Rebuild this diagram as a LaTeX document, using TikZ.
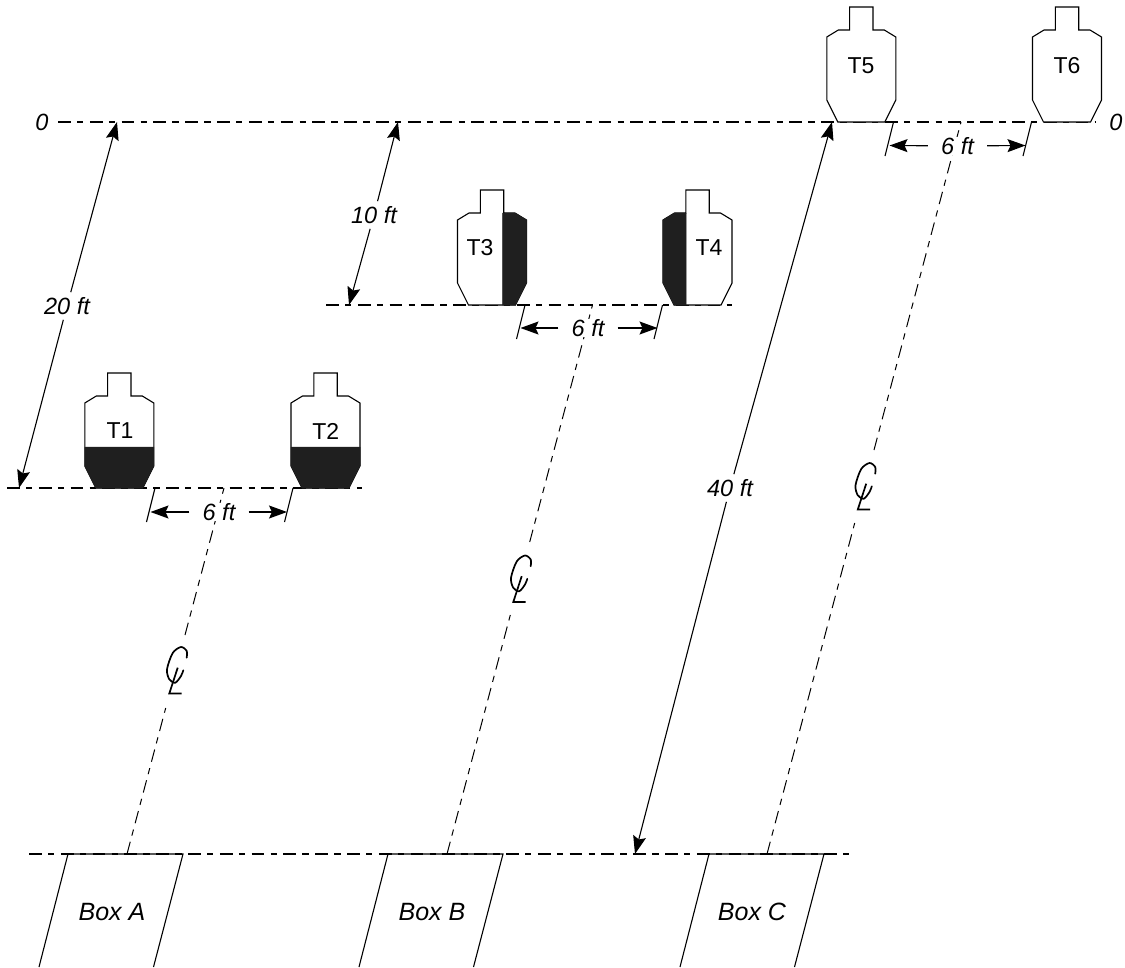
\documentclass[tikz,border=0pt]{standalone}
\usepackage{fontspec}
\setmainfont{Liberation Sans}
\usetikzlibrary{arrows.meta}
\tikzset{
  pics/target/.style={code={
    \draw[target line,fill=white] (-11.7,-115) -- (11.7,-115) -- (11.7,-92) -- (23,-92) -- (34.5,-85) -- (34.5,-22)
      -- (23.5,0) -- (-23.5,0) -- (-34.5,-22) -- (-34.5,-85) -- (-23,-92) -- (-11.7,-92) -- cycle;
  }},
  pics/clmark/.style={code={
    \draw[line width=1.7pt,line cap=round] plot[smooth] coordinates {(10.7,-13.3) (10.7,-20) (5,-24) (-3.3,-18) (-9,-1.7) (-6.7,8.3) (-0.7,11.7) (5,5) (7.3,-0.7)};
    \draw[line width=1.7pt,line cap=butt,line join=miter] (1.7,-3.3) -- (-6.7,22.5) -- (5.7,22.5);
  }}
}
\begin{document}
\begin{tikzpicture}[x=1pt,y=-1pt,>={Stealth[length=18pt,width=13pt,inset=3pt]},
    target line/.style={line width=1.1pt},
    black part/.style={fill=black!88,draw=black!88,line width=0.5pt},
    range line/.style={line width=1.1pt,dash pattern=on 12.7pt off 6.3pt on 6.3pt off 6.5pt},
    center line/.style={line width=1pt,dash pattern=on 12.7pt off 6.3pt on 6.3pt off 6.5pt},
    thin line/.style={line width=1.1pt},
    tag node/.style={font=\fontsize{23}{26}\selectfont,inner sep=0pt},
    dist node/.style={font=\fontsize{23.5}{26}\selectfont\itshape,inner sep=0pt},
    gap node/.style={font=\fontsize{23.5}{26}\selectfont\itshape,fill=white,inner ysep=0pt,inner xsep=13pt},
    box node/.style={font=\fontsize{25}{28}\selectfont\itshape,inner sep=0pt}]
  \useasboundingbox (0,0) rectangle (1125,967);

  % range lines
  \coordinate (r0a) at (58,122);
  \coordinate (r0b) at (1095,122);
  \coordinate (r10a) at (326,305);
  \coordinate (r10b) at (732,305);
  \coordinate (r20a) at (7,488);
  \coordinate (r20b) at (362,488);
  \coordinate (r40a) at (29,854);
  \coordinate (r40b) at (852,854);
  \path[-,range line] (r0a) edge (r0b);
  \path[-,range line] (r10a) edge (r10b);
  \path[-,range line] (r20a) edge (r20b);
  \path[-,range line] (r40a) edge (r40b);
  \node[dist node] (zeroa) at (42,122) {0};
  \node[dist node] (zerob) at (1116,122) {0};

  % center lines
  \coordinate (ca1) at (127,854);
  \coordinate (ca2) at (165.7,708);
  \coordinate (ca3) at (185,635);
  \coordinate (ca4) at (224,488);
  \coordinate (cb1) at (447,854);
  \coordinate (cb2) at (510.3,615);
  \coordinate (cb3) at (529.7,542);
  \coordinate (cb4) at (592.5,305);
  \coordinate (cc1) at (767,854);
  \coordinate (cc2) at (854.7,523);
  \coordinate (cc3) at (874,450);
  \coordinate (cc4) at (961,122);
  \path[-,center line] (ca1) edge (ca2);
  \path[-,center line] (ca3) edge (ca4);
  \path[-,center line] (cb1) edge (cb2);
  \path[-,center line] (cb3) edge (cb4);
  \path[-,center line] (cc1) edge (cc2);
  \path[-,center line] (cc3) edge (cc4);
  \pic at (176,671) {clmark};
  \pic at (520,579.5) {clmark};
  \pic at (864.5,487) {clmark};

  % targets
  \pic at (119.3,488) {target};
  \pic at (325.5,488) {target};
  \pic at (492,305) {target};
  \pic at (697.5,305) {target};
  \pic at (861.3,122) {target};
  \pic at (1067,122) {target};
  \path[black part] (84.8,447) -- (153.8,447) -- (153.8,466) -- (142.8,488) -- (95.8,488) -- (84.8,466) -- cycle;
  \path[black part] (291,447) -- (360,447) -- (360,466) -- (349,488) -- (302,488) -- (291,466) -- cycle;
  \path[black part] (502.7,213) -- (515,213) -- (526.5,220) -- (526.5,283) -- (515.5,305) -- (502.7,305) -- cycle;
  \path[black part] (686,213) -- (674.5,213) -- (663,220) -- (663,283) -- (674,305) -- (686,305) -- cycle;
  \node[tag node] (t1) at (120,431) {T1};
  \node[tag node] (t2) at (325.7,431) {T2};
  \node[tag node] (t3) at (480,248) {T3};
  \node[tag node] (t4) at (709,248) {T4};
  \node[tag node] (t5) at (861,66) {T5};
  \node[tag node] (t6) at (1067,66) {T6};

  % spacing between targets
  \coordinate (s1a) at (155,488);
  \coordinate (s1b) at (146.5,522);
  \coordinate (s1c) at (293,488);
  \coordinate (s1d) at (284.5,522);
  \coordinate (h1a) at (150.5,512);
  \coordinate (h1b) at (287,512);
  \coordinate (s2a) at (525,305);
  \coordinate (s2b) at (516.5,339);
  \coordinate (s2c) at (662.5,305);
  \coordinate (s2d) at (654,339);
  \coordinate (h2a) at (520.5,328);
  \coordinate (h2b) at (657.5,328);
  \coordinate (s3a) at (893.5,122);
  \coordinate (s3b) at (885,156);
  \coordinate (s3c) at (1031.5,122);
  \coordinate (s3d) at (1023,156);
  \coordinate (h3a) at (889.5,145.5);
  \coordinate (h3b) at (1025.5,145.5);
  \path[-,thin line] (s1a) edge (s1b);
  \path[-,thin line] (s1c) edge (s1d);
  \path[-,thin line] (s2a) edge (s2b);
  \path[-,thin line] (s2c) edge (s2d);
  \path[-,thin line] (s3a) edge (s3b);
  \path[-,thin line] (s3c) edge (s3d);
  \node[gap node] (six1) at (219,512) {6 ft};
  \node[gap node] (six2) at (588,328) {6 ft};
  \node[gap node] (six3) at (957.5,146) {6 ft};
  \path[->,thin line] (six1) edge (h1a);
  \path[->,thin line] (six1) edge (h1b);
  \path[->,thin line] (six2) edge (h2a);
  \path[->,thin line] (six2) edge (h2b);
  \path[->,thin line] (six3) edge (h3a);
  \path[->,thin line] (six3) edge (h3b);

  % distances from the zero line
  \coordinate (d20a) at (117,122);
  \coordinate (d20b) at (19,488);
  \coordinate (d10a) at (398,122);
  \coordinate (d10b) at (349,305);
  \coordinate (d40a) at (832,122);
  \coordinate (d40b) at (635,854);
  \node[dist node,inner sep=5pt] (dist20) at (67,306) {20 ft};
  \node[dist node,inner sep=5pt] (dist10) at (374,215) {10 ft};
  \node[dist node,inner sep=5pt] (dist40) at (730,488) {40 ft};
  \path[->,thin line] (dist20) edge (d20a);
  \path[->,thin line] (dist20) edge (d20b);
  \path[->,thin line] (dist10) edge (d10a);
  \path[->,thin line] (dist10) edge (d10b);
  \path[->,thin line] (dist40) edge (d40a);
  \path[->,thin line] (dist40) edge (d40b);

  % shooting boxes
  \coordinate (ba1) at (39,967);
  \coordinate (ba2) at (68,854);
  \coordinate (ba3) at (183,854);
  \coordinate (ba4) at (153.5,967);
  \coordinate (bb1) at (359,967);
  \coordinate (bb2) at (388,854);
  \coordinate (bb3) at (503,854);
  \coordinate (bb4) at (473.5,967);
  \coordinate (bc1) at (680,967);
  \coordinate (bc2) at (709,854);
  \coordinate (bc3) at (824,854);
  \coordinate (bc4) at (794.5,967);
  \draw[thin line] (ba1) -- (ba2) -- (ba3) -- (ba4);
  \draw[thin line] (bb1) -- (bb2) -- (bb3) -- (bb4);
  \draw[thin line] (bc1) -- (bc2) -- (bc3) -- (bc4);
  \node[box node] (boxa) at (112,912) {Box A};
  \node[box node] (boxb) at (432,912) {Box B};
  \node[box node] (boxc) at (752,912) {Box C};
\end{tikzpicture}
\end{document}
